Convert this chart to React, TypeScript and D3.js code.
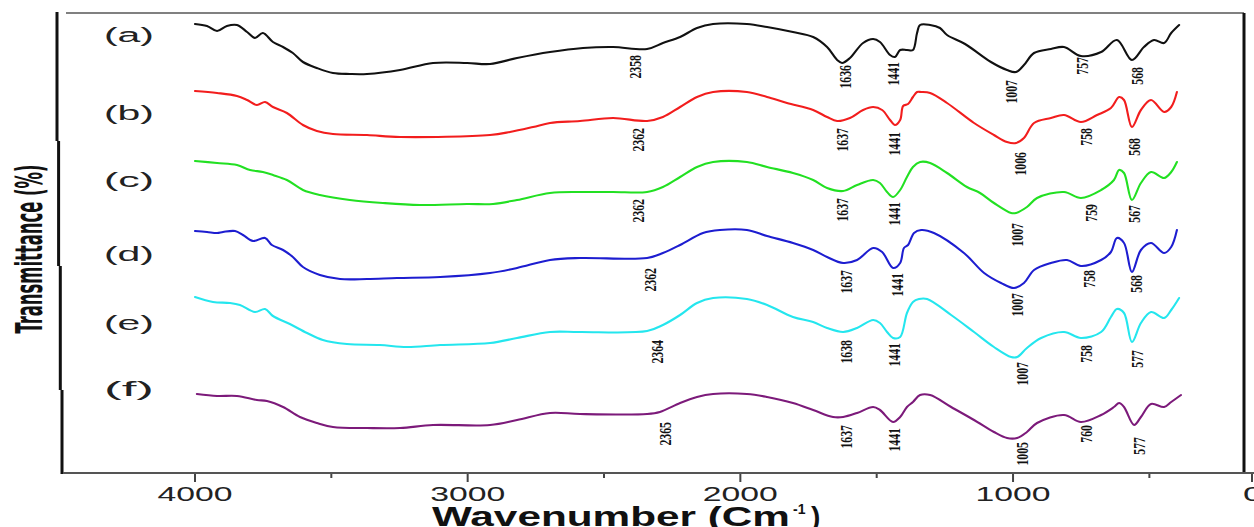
import React from 'react';
import * as d3 from 'd3';

type Pt = [number, number];
type Peak = [string, number, number];

// FTIR spectra, [wavenumber cm-1, transmittance (a.u., stacked)]
const spectrumA: Pt[] = [
  [4000, 449], [3956, 447], [3919, 442], [3883, 447], [3846, 448], [3809, 441], [3780, 435], [3751, 440],
  [3714, 431], [3677, 426], [3641, 420], [3604, 411], [3553, 405], [3494, 400], [3432, 399], [3369, 399],
  [3248, 403], [3127, 410], [3002, 410], [2918, 409], [2819, 415], [2698, 421], [2577, 425], [2467, 426],
  [2342, 424], [2284, 430], [2221, 436], [2159, 445], [2100, 449], [1976, 449], [1902, 446], [1807, 441],
  [1733, 436], [1682, 426], [1645, 413], [1627, 410], [1598, 415], [1550, 430], [1513, 434], [1488, 431],
  [1451, 418], [1433, 416], [1414, 423], [1389, 423], [1367, 423], [1352, 440], [1341, 448], [1304, 448],
  [1268, 445], [1242, 438], [1176, 429], [1081, 411], [1022, 403], [989, 401], [960, 408], [923, 420],
  [861, 424], [813, 426], [751, 417], [677, 421], [619, 433], [564, 413], [520, 426], [483, 433],
  [446, 430], [420, 440], [391, 448],
];

const spectrumB: Pt[] = [
  [4000, 382], [3919, 380], [3846, 377], [3809, 373], [3773, 368], [3743, 371], [3714, 366], [3663, 360],
  [3604, 348], [3553, 342], [3494, 339], [3369, 338], [3248, 336], [2918, 338], [2845, 341], [2760, 346],
  [2698, 350], [2588, 352], [2467, 355], [2342, 352], [2284, 356], [2221, 366], [2159, 376], [2100, 381],
  [1976, 381], [1902, 376], [1829, 370], [1733, 363], [1682, 356], [1645, 352], [1598, 355], [1550, 363],
  [1513, 366], [1480, 363], [1451, 353], [1433, 348], [1414, 353], [1403, 367], [1385, 369], [1367, 376],
  [1352, 381], [1337, 381], [1304, 380], [1242, 370], [1143, 350], [1070, 338], [1022, 331], [989, 330],
  [960, 335], [923, 350], [861, 355], [813, 358], [751, 351], [692, 358], [641, 365], [611, 376],
  [593, 373], [564, 346], [531, 363], [494, 373], [446, 361], [420, 366], [399, 381],
];

const spectrumC: Pt[] = [
  [4000, 312], [3919, 310], [3846, 308], [3798, 303], [3751, 301], [3714, 298], [3663, 293], [3604, 283],
  [3542, 278], [3432, 273], [3311, 270], [3175, 268], [3002, 269], [2907, 269], [2819, 273], [2698, 280],
  [2588, 281], [2467, 281], [2342, 281], [2284, 286], [2221, 296], [2159, 306], [2100, 311], [1976, 311],
  [1902, 306], [1807, 300], [1733, 293], [1682, 285], [1623, 282], [1572, 288], [1513, 293], [1488, 290],
  [1462, 281], [1440, 276], [1414, 283], [1389, 296], [1367, 306], [1341, 311], [1304, 310], [1242, 300],
  [1169, 286], [1121, 280], [1070, 270], [1007, 260], [989, 260], [949, 266], [912, 275], [813, 281],
  [751, 275], [677, 283], [630, 293], [611, 303], [593, 300], [564, 273], [531, 290], [494, 301],
  [446, 295], [420, 301], [399, 311],
];

const spectrumD: Pt[] = [
  [4000, 242], [3956, 241], [3919, 240], [3897, 241], [3853, 242], [3824, 238], [3787, 232], [3743, 235],
  [3718, 228], [3677, 223], [3641, 216], [3604, 206], [3542, 198], [3468, 194], [3369, 194], [3259, 195],
  [3101, 196], [2918, 200], [2819, 205], [2698, 213], [2588, 215], [2342, 215], [2284, 220], [2221, 228],
  [2137, 240], [2075, 243], [1976, 243], [1902, 237], [1807, 230], [1733, 223], [1682, 216], [1623, 210],
  [1572, 213], [1513, 225], [1480, 221], [1440, 205], [1414, 210], [1400, 225], [1385, 228], [1363, 240],
  [1337, 243], [1290, 240], [1180, 220], [1106, 200], [1044, 190], [996, 185], [960, 190], [923, 203],
  [861, 210], [802, 213], [751, 207], [677, 213], [641, 221], [619, 235], [593, 230], [564, 201],
  [531, 223], [494, 230], [446, 220], [420, 226], [399, 243],
];

const spectrumE: Pt[] = [
  [4000, 176], [3934, 171], [3872, 170], [3835, 168], [3780, 161], [3743, 164], [3714, 157], [3652, 149],
  [3589, 140], [3531, 133], [3443, 129], [3322, 128], [3223, 126], [3101, 128], [2918, 130], [2819, 135],
  [2698, 141], [2588, 141], [2342, 142], [2284, 148], [2221, 158], [2159, 170], [2100, 175], [1976, 174],
  [1902, 168], [1807, 156], [1733, 151], [1682, 145], [1623, 141], [1572, 145], [1513, 153], [1488, 150],
  [1462, 141], [1440, 135], [1414, 136], [1389, 160], [1367, 171], [1345, 174], [1315, 174], [1227, 158],
  [1143, 141], [1070, 126], [1007, 116], [985, 116], [949, 125], [897, 135], [813, 141], [751, 135],
  [677, 141], [641, 156], [619, 164], [593, 160], [564, 131], [531, 150], [494, 161], [446, 155],
  [420, 163], [391, 175],
];

const spectrumF: Pt[] = [
  [3993, 79], [3919, 77], [3846, 77], [3773, 73], [3736, 72], [3677, 66], [3615, 56], [3553, 50],
  [3494, 46], [3369, 45], [3248, 45], [3127, 48], [2918, 48], [2819, 53], [2698, 60], [2588, 59],
  [2342, 59], [2295, 61], [2221, 70], [2159, 76], [2100, 79], [1976, 79], [1902, 76], [1807, 70],
  [1733, 63], [1660, 56], [1623, 56], [1572, 60], [1513, 66], [1488, 63], [1440, 51], [1414, 56],
  [1389, 66], [1367, 71], [1341, 78], [1304, 78], [1227, 66], [1143, 53], [1070, 41], [1022, 35],
  [985, 35], [949, 41], [912, 50], [813, 58], [751, 51], [677, 58], [630, 66], [611, 70],
  [593, 66], [556, 48], [531, 56], [494, 69], [446, 66], [420, 71], [384, 78],
];

// peak labels: [text, wavenumber where written, level of label top]
const peaksA: Peak[] = [['2358', 2386, 418], ['1636', 1616, 408], ['1441', 1440, 411], ['1007', 1004, 393], ['757', 747, 416], ['568', 545, 406]];
const peaksB: Peak[] = [['2362', 2375, 345], ['1637', 1627, 345], ['1441', 1436, 341], ['1006', 971, 321], ['758', 732, 345], ['568', 556, 335]];
const peaksC: Peak[] = [['2362', 2375, 274], ['1637', 1627, 275], ['1441', 1433, 271], ['1007', 985, 250], ['759', 714, 269], ['567', 556, 268]];
const peaksD: Peak[] = [['2362', 2331, 205], ['1637', 1609, 203], ['1441', 1422, 200], ['1007', 985, 180], ['758', 721, 203], ['568', 549, 198]];
const peaksE: Peak[] = [['2364', 2302, 133], ['1638', 1609, 133], ['1441', 1433, 130], ['1007', 967, 111], ['758', 732, 128], ['577', 545, 123]];
const peaksF: Peak[] = [['2365', 2276, 51], ['1637', 1609, 48], ['1441', 1433, 45], ['1005', 967, 31], ['760', 729, 48], ['577', 538, 36]];

const seriesNames = ['(a)', '(b)', '(c)', '(d)', '(e)', '(f)'];
const seriesLevels = [436, 358, 291, 217, 148, 82];
const seriesColors = ['#111111', '#f21d1d', '#22e022', '#1d1dd0', '#24e6ee', '#7c1a7a'];
const spectra = [spectrumA, spectrumB, spectrumC, spectrumD, spectrumE, spectrumF];
const peaks = [peaksA, peaksB, peaksC, peaksD, peaksE, peaksF];

const majorTicks = [4000, 3000, 2000, 1000];
const minorTicks = [3500, 2500, 1500, 500];

const W = 1254;
const H = 527;
const left = 63, right = 1244, top = 13, bottom = 473;

export default function App() {
  const x = d3.scaleLinear().domain([4484, 153]).range([left, right]);
  const y = d3.scaleLinear().domain([0, 460]).range([bottom, top]);
  const line = d3.line<Pt>().x(d => x(d[0])).y(d => y(d[1])).curve(d3.curveCatmullRom.alpha(0.5));

  const sans = "'Liberation Sans', Arial, sans-serif";
  const serif = "'Liberation Serif', 'Times New Roman', serif";

  // slightly stepped left frame, as in the scan
  const leftFrame = `M57,12 V141 M58.6,141 V266 M60.3,266 V390 M62,390 V474`;

  return (
    <svg width={W} height={H} style={{ position: 'absolute', left: 0, top: 0, background: '#fff' }}>
      {/* frame */}
      <line x1={66} x2={right} y1={top} y2={top} stroke="#808080" strokeWidth={1.8} />
      <line x1={right} x2={right} y1={top} y2={bottom} stroke="#111" strokeWidth={3} />
      <path d={leftFrame} stroke="#111" strokeWidth={3} fill="none" />
      <line x1={left} x2={W} y1={bottom} y2={bottom} stroke="#555" strokeWidth={2} />

      {/* x ticks */}
      {majorTicks.map(t => (
        <g key={t}>
          <line x1={x(t)} x2={x(t)} y1={bottom + 1} y2={bottom + 9} stroke="#444" strokeWidth={2} />
          <text x={x(t)} y={501} textAnchor="middle" fontFamily={sans} fontSize={20} fill="#222"
            textLength={75} lengthAdjust="spacingAndGlyphs">{t}</text>
        </g>
      ))}
      {minorTicks.map(t => (
        <line key={t} x1={x(t)} x2={x(t)} y1={bottom + 1} y2={bottom + 5} stroke="#444" strokeWidth={2} />
      ))}
      <line x1={1252} x2={1252} y1={bottom + 1} y2={bottom + 9} stroke="#444" strokeWidth={2} />
      <text x={1243} y={501} fontFamily={sans} fontSize={20} fill="#222" textLength={20} lengthAdjust="spacingAndGlyphs">0</text>

      {/* axis titles */}
      <text transform="translate(42,249) rotate(-90)" textAnchor="middle"
        fontFamily="'Liberation Sans Narrow', 'DejaVu Sans Condensed', sans-serif" fontWeight="bold"
        fontSize={38} fill="#111" textLength={169} lengthAdjust="spacingAndGlyphs">Transmittance (%)</text>
      <text x={432} y={526} fontFamily={sans} fontWeight="bold" fontSize={28} fill="#111"
        textLength={358} lengthAdjust="spacingAndGlyphs">Wavenumber (Cm</text>
      <text x={793} y={514} fontFamily={sans} fontWeight="bold" fontSize={14} fill="#111">-1</text>
      <text x={811} y={526} fontFamily={sans} fontWeight="bold" fontSize={28} fill="#111">)</text>

      {/* spectra */}
      {spectra.map((s, i) => (
        <path key={i} d={line(s) ?? ''} fill="none" stroke={seriesColors[i]} strokeWidth={2.1}
          strokeLinejoin="round" strokeLinecap="round" />
      ))}

      {/* series names */}
      {seriesNames.map((n, i) => (
        <text key={n} x={129} y={y(seriesLevels[i]) + 5} textAnchor="middle" fontFamily={sans}
          fontSize={20} fill="#222" textLength={50} lengthAdjust="spacingAndGlyphs">{n}</text>
      ))}

      {/* peak labels */}
      {peaks.map((list, i) => list.map(([label, at, lvl]) => (
        <text key={`${i}-${label}-${at}`} transform={`translate(${x(at)},${y(lvl)}) rotate(-90)`}
          textAnchor="end" dominantBaseline="central" fontFamily={serif} fontWeight="bold"
          fontSize={16} fill="#111" textLength={label.length * 5.9} lengthAdjust="spacingAndGlyphs">
          {label}
        </text>
      )))}
    </svg>
  );
}
